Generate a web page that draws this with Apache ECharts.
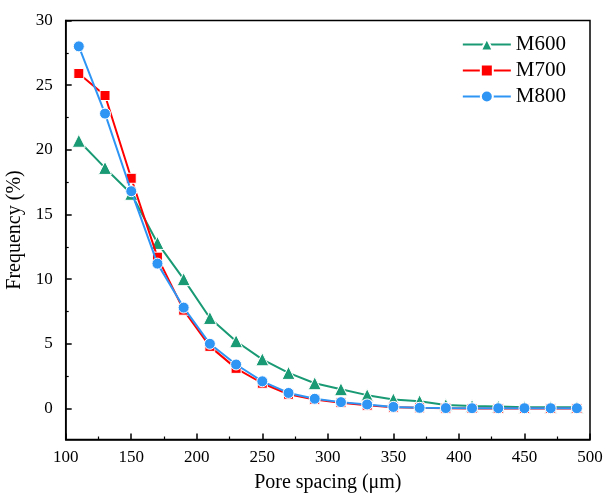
<!DOCTYPE html>
<html>
<head>
<meta charset="utf-8">
<script src="https://cdn.jsdelivr.net/npm/echarts@6/dist/echarts.min.js"></script>
<style>html,body{margin:0;padding:0;background:#fff}#c{width:608px;height:495px}</style>
</head>
<body>
<div id="c"></div>
<script>
const poreSpacing = [110,130,150,170,190,210,230,250,270,290,310,330,350,370,390,410,430,450,470,490];
const m600 = [20.7,18.6,16.6,12.8,10.0,7.0,5.2,3.8,2.75,1.95,1.49,1.03,0.70,0.56,0.26,0.2,0.15,0.1,0.1,0.1];
const m700 = [25.9,24.2,17.8,11.7,7.6,4.8,3.1,1.95,1.1,0.7,0.45,0.25,0.1,0.05,0.02,0.0,0.0,0.0,0.0,0.0];
const m800 = [28.0,22.8,16.8,11.2,7.8,5.0,3.4,2.1,1.2,0.75,0.49,0.31,0.12,0.05,0.03,0.02,0.02,0.02,0.02,0.02];
const seriesNames = ['M600','M700','M800'];
const yMajorTicks = [0,5,10,15,20,25,30];
const yMinorTicks = [2.5,7.5,12.5,17.5,22.5,27.5];
const xTitle = 'Pore spacing (\u03bcm)';
const yTitle = 'Frequency (%)';

const font = 'Liberation Serif';
function pairs(ys){ return poreSpacing.map((x,i)=>[x, ys[i]]); }

const chart = echarts.init(document.getElementById('c'), null, {renderer:'canvas'});
chart.setOption({
  animation:false,
  backgroundColor:'#fff',
  grid:{left:65.7, right:18, top:20.5, bottom:55.5, show:true, borderColor:'#000', borderWidth:1.5,
        containLabel:false, outerBoundsMode:'none'},
  legend:{
    right: 37, top: 29, orient:'vertical', itemWidth:48, itemHeight:15, itemGap:5,
    textStyle:{fontFamily:font, fontSize:21, color:'#000'},
    data: seriesNames
  },
  xAxis:{
    type:'value', min:100, max:500, interval:50,
    name:xTitle, nameLocation:'middle', nameGap:33,
    nameTextStyle:{fontFamily:font, fontSize:20, color:'#000'},
    axisLine:{onZero:false, lineStyle:{color:'#000', width:1.5}},
    axisTick:{inside:true, length:6, lineStyle:{color:'#000', width:1.5}},
    minorTick:{show:true, splitNumber:2, length:3, lineStyle:{color:'#000', width:1.2}},
    axisLabel:{fontFamily:font, fontSize:17, color:'#000', margin:10},
    splitLine:{show:false}
  },
  yAxis:[{
    type:'value', min:-2.4, max:30,
    name:yTitle, nameLocation:'middle', nameGap:32,
    nameTextStyle:{fontFamily:font, fontSize:20, color:'#000'},
    axisLine:{show:true, onZero:false, lineStyle:{color:'#000', width:1.5}},
    axisTick:{inside:true, length:6, customValues:yMajorTicks, lineStyle:{color:'#000', width:1.5}},
    axisLabel:{fontFamily:font, fontSize:17, color:'#000', margin:13, customValues:yMajorTicks},
    splitLine:{show:false}
  },{
    type:'value', min:-2.4, max:30, position:'left', offset:0,
    axisLine:{show:false, onZero:false},
    axisTick:{show:true, inside:true, length:3, customValues:yMinorTicks, lineStyle:{color:'#000', width:1.2}},
    axisLabel:{show:false},
    splitLine:{show:false}
  }],
  series:[
    {name:seriesNames[0], type:'line', data:pairs(m600), symbol:'triangle', symbolSize:13, z:2,
     lineStyle:{color:'#1a9a74', width:2}, itemStyle:{color:'#1a9a74', borderColor:'#fff', borderWidth:1}},
    {name:seriesNames[1], type:'line', data:pairs(m700), symbol:'rect', symbolSize:10, z:3,
     lineStyle:{color:'#ff0000', width:2}, itemStyle:{color:'#ff0000', borderColor:'#fff', borderWidth:1}},
    {name:seriesNames[2], type:'line', data:pairs(m800), symbol:'circle', symbolSize:11, z:4,
     lineStyle:{color:'#2f95f5', width:2}, itemStyle:{color:'#2f95f5', borderColor:'#fff', borderWidth:1}}
  ]
});
</script>
</body>
</html>
